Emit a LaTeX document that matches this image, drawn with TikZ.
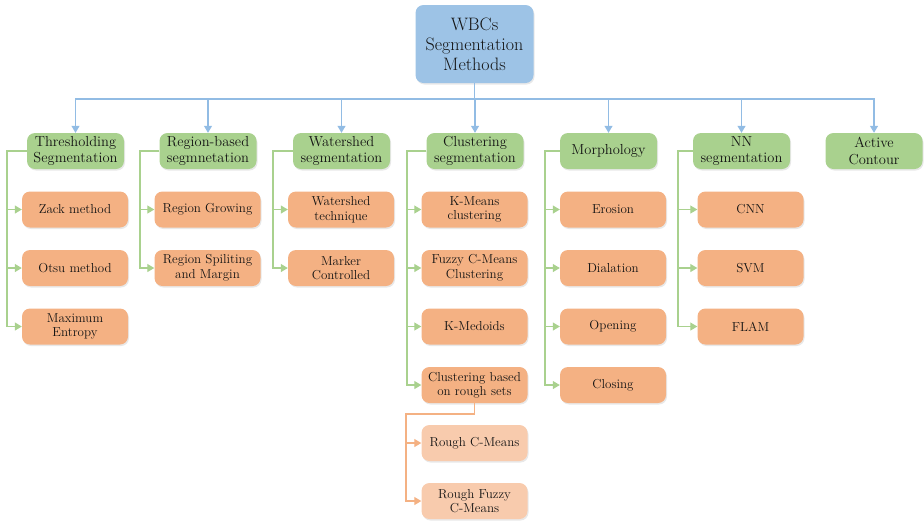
\documentclass[tikz,border=0pt]{standalone}
\usetikzlibrary{arrows.meta,shadows}
\definecolor{bfill}{HTML}{9DC3E6}
\definecolor{bline}{HTML}{92BCE4}
\definecolor{gfill}{HTML}{A9D18E}
\definecolor{gline}{HTML}{A9D18E}
\definecolor{ofill}{HTML}{F4B183}
\definecolor{lfill}{HTML}{F8CBAD}
\definecolor{oline}{HTML}{F4B183}
\definecolor{txt}{HTML}{141414}
\tikzset{
  box/.style={rounded corners=8pt, align=center, text=txt, inner sep=1pt,
    drop shadow={opacity=0.18, shadow xshift=1pt, shadow yshift=-1.5pt}},
  rootbox/.style={box, fill=bfill, minimum width=118pt, minimum height=78pt,
    font=\fontsize{18}{20}\selectfont},
  catbox/.style={box, fill=gfill, minimum width=97pt, minimum height=36pt,
    font=\fontsize{14.5}{16.5}\selectfont},
  leafbox/.style={box, fill=ofill, minimum width=106pt, minimum height=36pt,
    font=\fontsize{13}{14.5}\selectfont},
  subbox/.style={leafbox, fill=lfill},
  barrow/.style={draw=bline, line width=1.2pt, -{Triangle[length=7pt,width=8pt]}},
  garrow/.style={draw=gline, line width=1.2pt, -{Triangle[length=7pt,width=8pt]}},
  oarrow/.style={draw=oline, line width=1.2pt, -{Triangle[length=7pt,width=8pt]}},
}
\begin{document}
\begin{tikzpicture}[x=1pt,y=-1pt]
\useasboundingbox (0,0) rectangle (924,520);
% root
\node[rootbox] (root) at (474.5,44) {WBCs\\Segmentation\\Methods};
% categories
\node[catbox] (g1) at (75.5,151) {Thresholding\\Segmentation};
\node[catbox] (g2) at (208,151) {Region-based\\segmnetation};
\node[catbox] (g3) at (341.5,151) {Watershed\\segmentation};
\node[catbox] (g4) at (475,151) {Clustering\\segmentation};
\node[catbox] (g5) at (608.5,151) {Morphology};
\node[catbox] (g6) at (741.5,151) {NN\\segmentation};
\node[catbox] (g7) at (874,151) {Active\\Contour};
% leaves
\node[leafbox] (t1) at (75,209.5) {Zack method};
\node[leafbox] (t2) at (75,268) {Otsu method};
\node[leafbox] (t3) at (75,326.5) {Maximum\\Entropy};
\node[leafbox] (r1) at (207.5,209.5) {Region Growing};
\node[leafbox] (r2) at (207.5,268) {Region Spiliting\\and Margin};
\node[leafbox] (w1) at (341,209.5) {Watershed\\technique};
\node[leafbox] (w2) at (341,268) {Marker\\Controlled};
\node[leafbox] (c1) at (474.5,209.5) {K-Means\\clustering};
\node[leafbox] (c2) at (474.5,268) {Fuzzy C-Means\\Clustering};
\node[leafbox] (c3) at (474.5,326.5) {K-Medoids};
\node[leafbox] (c4) at (474.5,385) {Clustering based\\on rough sets};
\node[subbox] (c5) at (474.5,443) {Rough C-Means};
\node[subbox] (c6) at (474.5,501) {Rough Fuzzy\\C-Means};
\node[leafbox] (m1) at (613,209.5) {Erosion};
\node[leafbox] (m2) at (613,268) {Dialation};
\node[leafbox] (m3) at (613,326.5) {Opening};
\node[leafbox] (m4) at (613,385) {Closing};
\node[leafbox] (n1) at (750.5,209.5) {CNN};
\node[leafbox] (n2) at (750.5,268) {SVM};
\node[leafbox] (n3) at (750.5,326.5) {FLAM};
% coordinates
\coordinate (bus) at (0,99);
\coordinate (kT) at (7,0);
\coordinate (kR) at (140,0);
\coordinate (kW) at (273,0);
\coordinate (kC) at (407,0);
\coordinate (kM) at (545,0);
\coordinate (kN) at (678,0);
\coordinate (rk) at (406,414);
% blue bus
\foreach \g in {g1,g2,g3,g4,g5,g6,g7}
  \draw[barrow] (root.south) |- (\g.north |- bus) -- (\g.north);
% green trunks
\foreach \k/\g/\c in {kT/g1/t1,kT/g1/t2,kT/g1/t3,kR/g2/r1,kR/g2/r2,kW/g3/w1,kW/g3/w2,
  kC/g4/c1,kC/g4/c2,kC/g4/c3,kC/g4/c4,kM/g5/m1,kM/g5/m2,kM/g5/m3,kM/g5/m4,
  kN/g6/n1,kN/g6/n2,kN/g6/n3}
  \draw[garrow] (\g.west) -| (\k |- \c.west) -- (\c.west);
% rough sets
\draw[oarrow] (c4.south) |- (rk) |- (c5.west);
\draw[oarrow] (c4.south) |- (rk) |- (c6.west);
\end{tikzpicture}
\end{document}
